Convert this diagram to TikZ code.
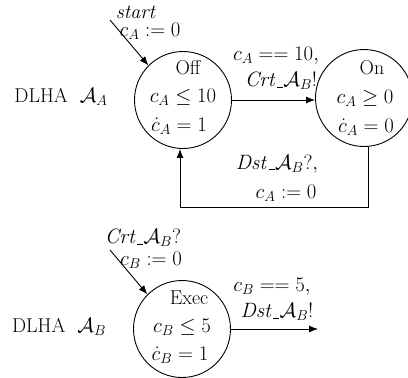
\documentclass[tikz,border=0pt]{standalone}
\usepackage{amsmath}
\usetikzlibrary{arrows.meta}
\newcommand{\usc}{\kern0.5pt\rule[-0.6pt]{0.3em}{0.6pt}\kern0.3pt}
\begin{document}
\begin{tikzpicture}[x=1pt,y=-1pt,
  font=\fontsize{20}{23}\selectfont,
  state/.style={circle, draw, line width=0.9pt, minimum size=97pt, inner sep=0pt},
  tr/.style={-{Latex[length=9pt,width=7pt]}, line width=0.9pt},
  lbl/.style={inner sep=0pt}]
\useasboundingbox (0,0) rectangle (408,378);
% automaton A
\node[state] (off) at (183,100) {};
\node[state] (on) at (364,98) {};
\node[lbl] (offn) at (188,68) {Off};
\node[lbl] (offi) at (183,97) {$c_A \le 10$};
\node[lbl] (offf) at (179,126) {$\dot{c}_A = 1$};
\node[lbl] (onn) at (372,68) {On};
\node[lbl] (oni) at (365,98) {$c_A \ge 0$};
\node[lbl] (onf) at (366,127) {$\dot{c}_A = 0$};
\node[lbl] (dA) at (61,97) {DLHA\ \ $\mathcal{A}_A$};
\node[lbl] (st) at (136,12) {\textit{start}};
\node[lbl] (st2) at (150,31) {$c_A := 0$};
\node[lbl] (g1) at (276,56) {$c_A == 10,$};
\node[lbl] (g2) at (281,81) {$\mathit{Crt}\usc\mathcal{A}_B!$};
\node[lbl] (g3) at (277,164) {$\mathit{Dst}\usc\mathcal{A}_B?,$};
\node[lbl] (g4) at (286,193) {$c_A := 0$};
\coordinate (s0) at (110,20);
\coordinate (lp) at (368,207);
\draw[tr] (s0) -- (off.135);
\draw[tr] (off.east |- 0,100) -- (on.west |- 0,100);
\draw[tr] (on.south -| lp) -- (lp) -| ([xshift=-3pt]off.south);
% automaton B
\node[state] (ex) at (182,329) {};
\node[lbl] (exn) at (189,298) {Exec};
\node[lbl] (exi) at (182,327) {$c_B \le 5$};
\node[lbl] (exf) at (180,355) {$\dot{c}_B = 1$};
\node[lbl] (dB) at (59,327) {DLHA\ \ $\mathcal{A}_B$};
\node[lbl] (c1) at (143,238) {$\mathit{Crt}\usc\mathcal{A}_B?$};
\node[lbl] (c2) at (151,260) {$c_B := 0$};
\node[lbl] (h1) at (272,287) {$c_B == 5,$};
\node[lbl] (h2) at (277,312) {$\mathit{Dst}\usc\mathcal{A}_B!$};
\coordinate (s1) at (110,250);
\coordinate (e1) at (318,329);
\draw[tr] (s1) -- (ex.135);
\draw[tr] (ex.east) -- (e1);
\end{tikzpicture}
\end{document}
